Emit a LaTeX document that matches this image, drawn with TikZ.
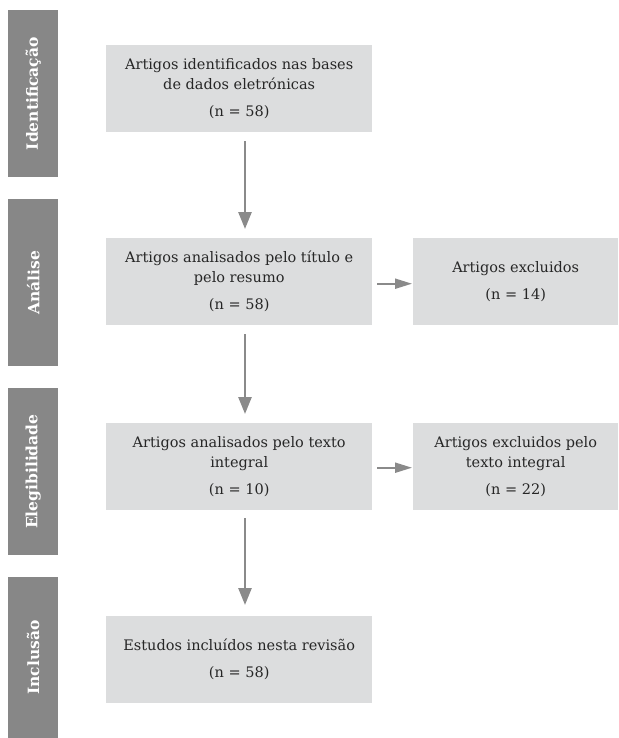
\documentclass[tikz,border=0pt]{standalone}
\usepackage{fontspec}
\setmainfont{DejaVu Serif}
\usetikzlibrary{arrows.meta}
\definecolor{barcol}{HTML}{878787}
\definecolor{boxcol}{HTML}{DCDDDE}
\definecolor{arrcol}{HTML}{8A8A8A}
\definecolor{txtcol}{HTML}{262626}
\begin{document}
\begin{tikzpicture}[x=1pt,y=1pt,
  bar/.style={fill=barcol, draw=none, minimum width=50pt, minimum height=167pt, anchor=north west, inner sep=0pt},
  barlabel/.style={text=white, font=\fontsize{15.5}{18}\selectfont\bfseries, rotate=90, inner sep=0pt},
  box/.style={fill=boxcol, draw=none, minimum width=266pt, minimum height=87pt, anchor=north west, align=center, text=txtcol, font=\fontsize{14.5}{20}\selectfont, inner sep=0pt},
  ebox/.style={box, minimum width=205pt},
  arr/.style={draw=arrcol, line width=2.6pt, -{Triangle[length=17pt,width=13pt]}},
  harr/.style={draw=arrcol, line width=2pt, -{Triangle[length=17pt,width=10pt]}},
]
\useasboundingbox (0,0) rectangle (618,-738);
% phase bars
\node[bar] (bar1) at (8,-10) {};
\node[bar] (bar2) at (8,-199) {};
\node[bar] (bar3) at (8,-388) {};
\node[bar, minimum height=161pt] (bar4) at (8,-577) {};
\node[barlabel] (lab1) at (bar1.center) {Identificação};
\node[barlabel] (lab2) at (bar2.center) {Análise};
\node[barlabel] (lab3) at (bar3.center) {Elegibilidade};
\node[barlabel] (lab4) at (bar4.center) {Inclusão};
% main boxes
\node[box] (b1) at (106,-45) {Artigos identificados nas bases\\de dados eletrónicas\\[7pt](n = 58)};
\node[box] (b2) at (106,-238) {Artigos analisados pelo título e\\pelo resumo\\[7pt](n = 58)};
\node[box] (b3) at (106,-423) {Artigos analisados pelo texto\\integral\\[7pt](n = 10)};
\node[box] (b4) at (106,-616) {Estudos incluídos nesta revisão\\[7pt](n = 58)};
% exclusion boxes
\node[ebox] (e1) at (413,-238) {Artigos excluidos\\[7pt](n = 14)};
\node[ebox] (e2) at (413,-423) {Artigos excluidos pelo\\texto integral\\[7pt](n = 22)};
% arrows
\coordinate (ax) at (245,0);
\draw[arr] ([yshift=-9pt]b1.south -| ax) -- ([yshift=9pt]b2.north -| ax);
\draw[arr] ([yshift=-9pt]b2.south -| ax) -- ([yshift=9pt]b3.north -| ax);
\draw[arr] ([yshift=-8pt]b3.south -| ax) -- ([yshift=11pt]b4.north -| ax);
\draw[harr] ([xshift=5pt,yshift=-2pt]b2.east) -- ([xshift=-1pt,yshift=-2pt]b2.east -| e1.west);
\draw[harr] ([xshift=5pt,yshift=-1pt]b3.east) -- ([xshift=-1pt,yshift=-1pt]b3.east -| e2.west);
\end{tikzpicture}
\end{document}
